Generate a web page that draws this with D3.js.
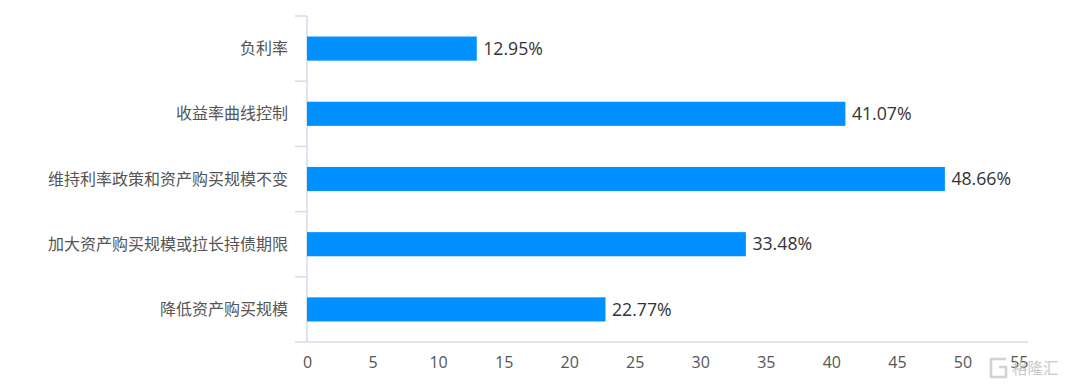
<!DOCTYPE html>
<html>
<head>
<meta charset="utf-8">
<script src="https://cdn.jsdelivr.net/npm/d3@7"></script>
<style>
body { margin: 0; background: #fff; }
text { font-family: "Noto Sans CJK SC", sans-serif; }
text.num { font-family: "Open Sans", "Noto Sans CJK SC", sans-serif; }
</style>
</head>
<body>
<div id="chart"></div>
<script>
const categories = ["负利率", "收益率曲线控制", "维持利率政策和资产购买规模不变", "加大资产购买规模或拉长持债期限", "降低资产购买规模"]
const values = [12.95, 41.07, 48.66, 33.48, 22.77]
const valueLabels = ["12.95%", "41.07%", "48.66%", "33.48%", "22.77%"]
const xTicks = [0, 5, 10, 15, 20, 25, 30, 35, 40, 45, 50, 55]

const width = 1065
const height = 385
const margin = { top: 16, right: 37, bottom: 43, left: 307 }
const axisColor = "#d3dde9"

const svg = d3.select("#chart")
    .append("svg")
    .attr("width", width)
    .attr("height", height)
    .style("display", "block")

const x = d3.scaleLinear()
    .domain([0, 55])
    .range([margin.left, width - margin.right])

const y = d3.scaleBand()
    .domain(categories)
    .range([margin.top, height - margin.bottom])
    .paddingInner(0.63)
    .paddingOuter(0.315)

// band edges for the y ticks, these sit between the bars
const yEdges = d3.scaleLinear()
    .domain([0, categories.length])
    .range([margin.top, height - margin.bottom])

svg.append("g")
    .selectAll("line")
    .data(d3.range(categories.length + 1))
    .join("line")
    .attr("x1", margin.left - 12)
    .attr("x2", margin.left)
    .attr("y1", d => yEdges(d))
    .attr("y2", d => yEdges(d))
    .attr("stroke", axisColor)
    .attr("stroke-width", 1.5)

svg.append("line")
    .attr("x1", margin.left)
    .attr("x2", margin.left)
    .attr("y1", margin.top)
    .attr("y2", height - margin.bottom)
    .attr("stroke", axisColor)
    .attr("stroke-width", 1.5)

svg.append("line")
    .attr("x1", margin.left)
    .attr("x2", x(55))
    .attr("y1", height - margin.bottom)
    .attr("y2", height - margin.bottom)
    .attr("stroke", axisColor)
    .attr("stroke-width", 1.5)

svg.append("g")
    .selectAll("text")
    .data(xTicks)
    .join("text")
    .attr("class", "num")
    .attr("x", d => x(d) + 0.5)
    .attr("y", 362)
    .attr("dy", "0.35em")
    // last label is pulled inside the axis end
    .attr("text-anchor", d => d === 55 ? "end" : "middle")
    .attr("font-size", 16)
    .attr("fill", "#555")
    .text(d => d)

svg.append("g")
    .selectAll("rect")
    .data(values)
    .join("rect")
    .attr("x", x(0))
    .attr("y", (d, i) => y(categories[i]))
    .attr("width", d => x(d) - x(0))
    .attr("height", y.bandwidth())
    .attr("fill", "#0090ff")

svg.append("g")
    .selectAll("text")
    .data(categories)
    .join("text")
    .attr("x", 288)
    .attr("y", d => y(d) + y.bandwidth() / 2)
    .attr("dy", "0.35em")
    .attr("text-anchor", "end")
    .attr("font-size", 16)
    .attr("fill", "#555")
    .text(d => d)

svg.append("g")
    .selectAll("text")
    .data(values)
    .join("text")
    .attr("class", "num")
    .attr("x", d => x(d) + 6.5)
    .attr("y", (d, i) => y(categories[i]) + y.bandwidth() / 2)
    .attr("dy", "0.35em")
    .attr("font-size", 17.7)
    .attr("fill", "#333")
    .text((d, i) => valueLabels[i])

// watermark, bottom right
const mark = svg.append("g").attr("opacity", 0.75)
mark.append("path")
    .attr("d", "M1006 359H991V377H1006V367H999")
    .attr("fill", "none")
    .attr("stroke", "#c4c4c4")
    .attr("stroke-width", 2.5)
mark.append("text")
    .attr("x", 1012)
    .attr("y", 369)
    .attr("dy", "0.35em")
    .attr("font-size", 15.5)
    .attr("fill", "#b8b8b8")
    .text("格隆汇")
</script>
</body>
</html>
